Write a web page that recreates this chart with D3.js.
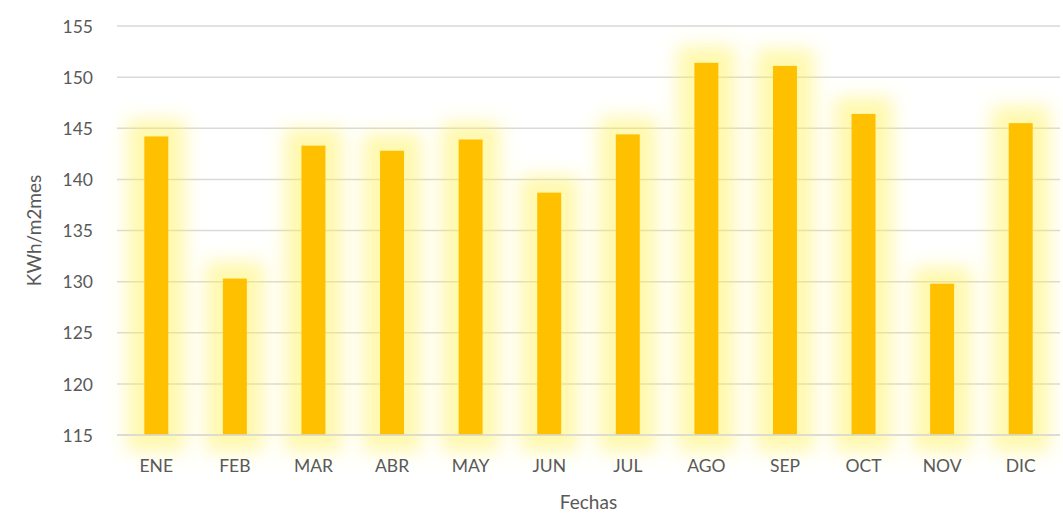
<!DOCTYPE html>
<html><head><meta charset="utf-8">
<script src="https://cdn.jsdelivr.net/npm/d3@7"></script>
<style>body{margin:0;background:#fff}svg{display:block}text{font-family:Lato,"Open Sans",sans-serif}</style>
</head><body><svg id="c" width="1063" height="521"></svg>
<script>
const categories = ["ENE","FEB","MAR","ABR","MAY","JUN","JUL","AGO","SEP","OCT","NOV","DIC"];
const values = [144.2,130.3,143.3,142.8,143.9,138.7,144.4,151.4,151.1,146.4,129.8,145.5];
const yTicks = [115,120,125,130,135,140,145,150,155];
const xTitle = "Fechas";
const yTitle = "KWh/m2mes";

const svg = d3.select("#c");
const L = 117, R = 1060, T = 26, B = 435;
const x = d3.scaleBand().domain(categories).range([L, R]).paddingInner(0.695).paddingOuter(0.3475);
const y = d3.scaleLinear().domain([115,155]).range([B, T]);

const defs = svg.append("defs");
const f = defs.append("filter").attr("id","glow").attr("x","-300%").attr("y","-50%").attr("width","700%").attr("height","200%");
f.append("feMorphology").attr("in","SourceAlpha").attr("operator","dilate").attr("radius",17).attr("result","d");
f.append("feGaussianBlur").attr("in","d").attr("stdDeviation",9).attr("result","b");
f.append("feFlood").attr("flood-color","#FFF04A").attr("flood-opacity",0.45).attr("result","c");
f.append("feComposite").attr("in","c").attr("in2","b").attr("operator","in");

// gridlines
svg.append("g").selectAll("line").data(yTicks).join("line")
  .attr("x1", L).attr("x2", R).attr("y1", d=>y(d)).attr("y2", d=>y(d))
  .attr("stroke", "#d9d9d9").attr("stroke-width", 1.5);

// glow
svg.append("g").attr("filter","url(#glow)").selectAll("rect").data(values).join("rect")
  .attr("x",(d,i)=>x(categories[i])).attr("width",x.bandwidth())
  .attr("y",d=>y(d)).attr("height",d=>B-y(d)).attr("fill","#FFC000");

// bars
svg.append("g").selectAll("rect").data(values).join("rect")
  .attr("x",(d,i)=>x(categories[i])).attr("width",x.bandwidth())
  .attr("y",d=>y(d)).attr("height",d=>B-y(d)).attr("fill","#FFC000");

// axes
const ya = d3.axisLeft(y).tickValues(yTicks).tickSize(0).tickPadding(0);
const yg = svg.append("g").attr("transform",`translate(${L-24},0)`).call(ya);
yg.select(".domain").remove();
yg.selectAll("text").attr("fill","#595959").attr("font-size",17.5).attr("dy","0.35em");

const xa = d3.axisBottom(x).tickSize(0).tickPadding(0);
const xg = svg.append("g").attr("transform",`translate(0,${B+31})`).call(xa);
xg.select(".domain").remove();
xg.selectAll("text").attr("fill","#595959").attr("font-size",17.5).attr("dy","0.35em");

svg.append("line").attr("x1",L).attr("x2",R).attr("y1",B).attr("y2",B).attr("stroke","#d9d9d9").attr("stroke-width",1.5);

svg.append("text").attr("x",(L+R)/2).attr("y",509).attr("text-anchor","middle")
  .attr("fill","#595959").attr("font-size",19).text(xTitle);
svg.append("text").attr("transform",`translate(41,${(T+B)/2}) rotate(-90)`).attr("text-anchor","middle")
  .attr("fill","#595959").attr("font-size",19).text(yTitle);
</script></body></html>
